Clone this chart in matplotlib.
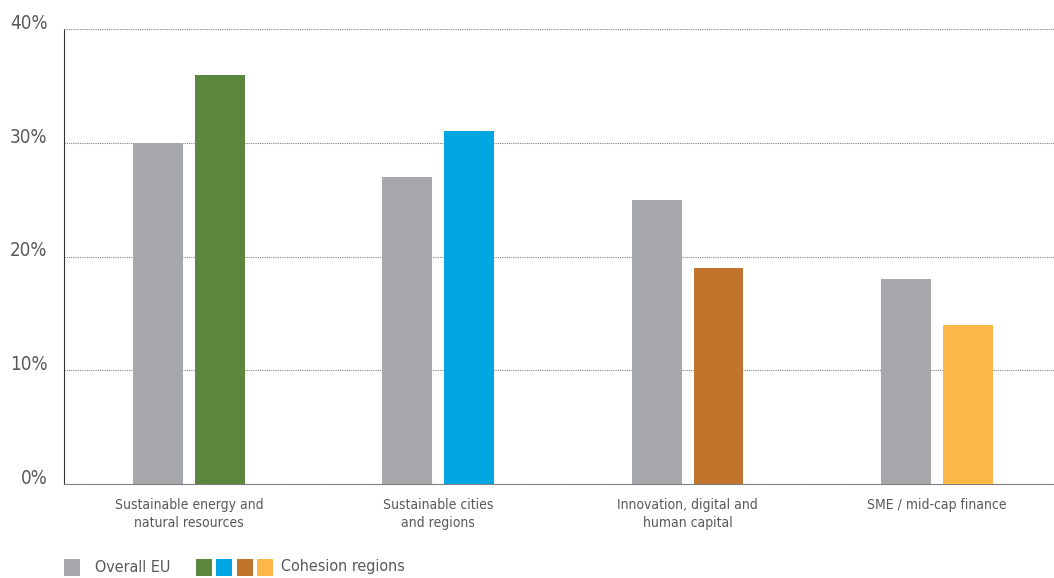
import numpy as np
import matplotlib.pyplot as plt
from matplotlib.patches import Rectangle
from matplotlib.ticker import FuncFormatter

plt.rcParams['font.family'] = ['DejaVu Sans']
plt.rcParams['font.stretch'] = 'condensed'

categories = ["Sustainable energy and\nnatural resources",
              "Sustainable cities\nand regions",
              "Innovation, digital and\nhuman capital",
              "SME / mid-cap finance"]
overall_eu = [30, 27, 25, 18]
cohesion = [36, 31, 19, 14]
cohesion_colors = ["#5b863d", "#00a6e2", "#c1742c", "#fbb748"]
grey = "#a7a8ab"
text_col = "#58595b"

fig = plt.figure(figsize=(10.54, 5.78), dpi=100)
ax = fig.add_axes([64 / 1054, 94 / 578, 990 / 1054, 455 / 578])

x = np.arange(len(categories))
w = 0.2
ax.bar(x - 0.124, overall_eu, w, color=grey, zorder=3)
ax.bar(x + 0.124, cohesion, w, color=cohesion_colors, zorder=3)

ax.set_xlim(-0.501, 3.47)
ax.set_ylim(0, 40)
ax.set_yticks([0, 10, 20, 30, 40])
ax.yaxis.set_major_formatter(FuncFormatter(lambda v, p: f"{v:.0f}%"))
ax.set_xticks(x)
ax.set_xticklabels(categories, linespacing=1.35)
ax.tick_params(axis='y', length=0, pad=12, labelsize=13.5, labelcolor=text_col)
ax.tick_params(axis='x', length=0, pad=10, labelsize=10, labelcolor=text_col)
for lab in ax.get_yticklabels():
    lab.set_verticalalignment('baseline')

ax.grid(axis='y', linestyle=(0, (1, 1)), color='#808080', linewidth=0.8, zorder=0)
for s in ['top', 'right']:
    ax.spines[s].set_visible(False)
ax.spines['left'].set_linestyle((0, (1, 1)))
ax.spines['left'].set_linewidth(0.8)
ax.spines['left'].set_color('#333333')
ax.spines['bottom'].set_linestyle((0, (1, 1)))
ax.spines['bottom'].set_linewidth(0.8)
ax.spines['bottom'].set_color('#808080')

# legend along the bottom
W, H = 1054, 578
def sq(x0, c):
    fig.add_artist(Rectangle((x0 / W, (H - 576) / H), 16 / W, 17 / H,
                             transform=fig.transFigure, color=c, lw=0))
sq(64, grey)
fig.text(95 / W, (H - 567) / H, "Overall EU", fontsize=11.5, color=text_col, va='center')
for i, c in enumerate(cohesion_colors):
    sq(196 + 20.3 * i, c)
fig.text(281 / W, (H - 567) / H, "Cohesion regions", fontsize=11.5, color=text_col, va='center')

fig.savefig("out.png", dpi=100)
